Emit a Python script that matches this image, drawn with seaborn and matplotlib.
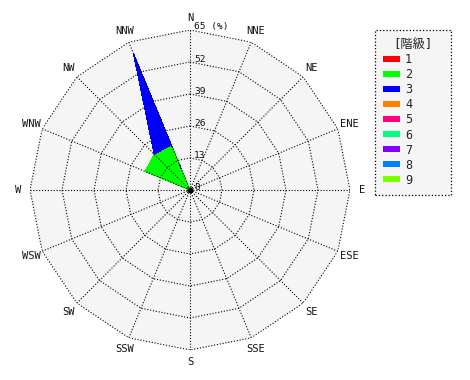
import numpy as np
import matplotlib
matplotlib.use("Agg")
import matplotlib.pyplot as plt
import seaborn as sns

sns.set_theme(style="white")
plt.rcParams['font.family'] = ['DejaVu Sans Mono', 'Noto Sans CJK JP']

# ---- data ----
directions = ['N', 'NNE', 'NE', 'ENE', 'E', 'ESE', 'SE', 'SSE',
              'S', 'SSW', 'SW', 'WSW', 'W', 'WNW', 'NW', 'NNW']
# frequency (%) per wind-speed class, order as directions
class_1 = [0, 0, 0, 0, 0, 0, 0, 0, 0, 0, 0, 0, 0, 0.3, 0.3, 0.3]
class_2 = [0, 0, 0, 0, 0, 0, 0, 0, 0, 0, 0, 0, 0, 19.4, 20.3, 19.5]
class_3 = [0, 0, 0, 0, 0, 0, 0, 0, 0, 0, 0, 0, 0, 0, 0, 40.3]
class_4 = [0, 0, 0, 0, 0, 0, 0, 0, 0, 0, 0, 0, 0, 0, 0, 0]
class_5 = [0, 0, 0, 0, 0, 0, 0, 0, 0, 0, 0, 0, 0, 0, 0, 0]
class_6 = [0, 0, 0, 0, 0, 0, 0, 0, 0, 0, 0, 0, 0, 0, 0, 0]
class_7 = [0, 0, 0, 0, 0, 0, 0, 0, 0, 0, 0, 0, 0, 0, 0, 0]
class_8 = [0, 0, 0, 0, 0, 0, 0, 0, 0, 0, 0, 0, 0, 0, 0, 0]
class_9 = [0, 0, 0, 0, 0, 0, 0, 0, 0, 0, 0, 0, 0, 0, 0, 0]
class_labels = ['1', '2', '3', '4', '5', '6', '7', '8', '9']
class_colors = ['#ff0000', '#00ff00', '#0000ff', '#ff8000', '#ff0080',
                '#00ff80', '#8000ff', '#0080ff', '#80ff00']
ring_values = [13, 26, 39, 52, 65]
ring_labels = ['13', '26', '39', '52', '65 (%)']
r_max = 65
legend_title = '[階級]'

classes = [class_1, class_2, class_3, class_4, class_5,
           class_6, class_7, class_8, class_9]

# ---- figure ----
W, H = 470, 380
fig = plt.figure(figsize=(W / 100, H / 100), dpi=100)
fig.patch.set_facecolor('white')
cx, cy, R = 190, 190, 160
ax = fig.add_axes([(cx - R) / W, (H - cy - R) / H, 2 * R / W, 2 * R / H],
                  projection='polar')
ax.set_theta_zero_location('N')
ax.set_theta_direction(-1)
ax.set_ylim(0, r_max)
ax.grid(False)
ax.set_xticks([])
ax.set_yticks([])
ax.spines['polar'].set_visible(False)
ax.set_facecolor('none')

n = len(directions)
theta = np.deg2rad(np.arange(n) * 360.0 / n)
theta_c = np.append(theta, theta[0])

# background polygon
ax.fill(theta_c, np.full(n + 1, r_max), color='#f5f5f5', zorder=0, lw=0)

# stacked bands
cum_prev = np.zeros(n)
handles = []
for vals, lab, col in zip(classes, class_labels, class_colors):
    cum = cum_prev + np.array(vals, dtype=float)
    outer = np.append(cum, cum[0])
    inner = np.append(cum_prev, cum_prev[0])
    th = np.concatenate([theta_c, theta_c[::-1]])
    rr = np.concatenate([outer, inner[::-1]])
    h = ax.fill(th, rr, color=col, lw=0, zorder=2, label=lab,
                antialiased=False)[0]
    handles.append(h)
    cum_prev = cum

# grid
ls = (0, (1, 1.6))
for r in ring_values:
    ax.plot(theta_c, np.full(n + 1, r), color='black', lw=0.8,
            linestyle=ls, zorder=3)
for t in theta:
    ax.plot([t, t], [0, r_max], color='black', lw=0.8, linestyle=ls, zorder=3)
ax.plot([0], [0], marker='o', ms=3, color='black', zorder=4)

# direction labels
for t, d in zip(theta, directions):
    ax.text(t, r_max * 172 / 160, d, ha='center', va='center',
            fontsize=7.5, color='#111111', clip_on=False)

# ring labels on N axis
for r, lab in zip([0] + ring_values, ['0'] + ring_labels):
    ax.annotate(lab, xy=(0, r), xytext=(4, 3), textcoords='offset pixels',
                ha='left', va='center', fontsize=6.8, color='#111111',
                annotation_clip=False)

# legend
leg = fig.legend(handles, class_labels, title=legend_title,
                 loc='upper left',
                 bbox_to_anchor=(375 / W, (H - 34) / H, 76 / W, 0.01),
                 mode='expand', borderaxespad=0, frameon=True,
                 fancybox=False, edgecolor='black', facecolor='#f5f5f5',
                 framealpha=1, fontsize=8.5, title_fontsize=8.8,
                 handlelength=1.45, handleheight=0.45, handletextpad=0.4,
                 labelspacing=0.17, borderpad=0.7)
leg.get_frame().set_linestyle(':')
leg.get_frame().set_linewidth(0.9)
leg.get_title().set_color('#222222')

fig.savefig('out.png', dpi=100)
